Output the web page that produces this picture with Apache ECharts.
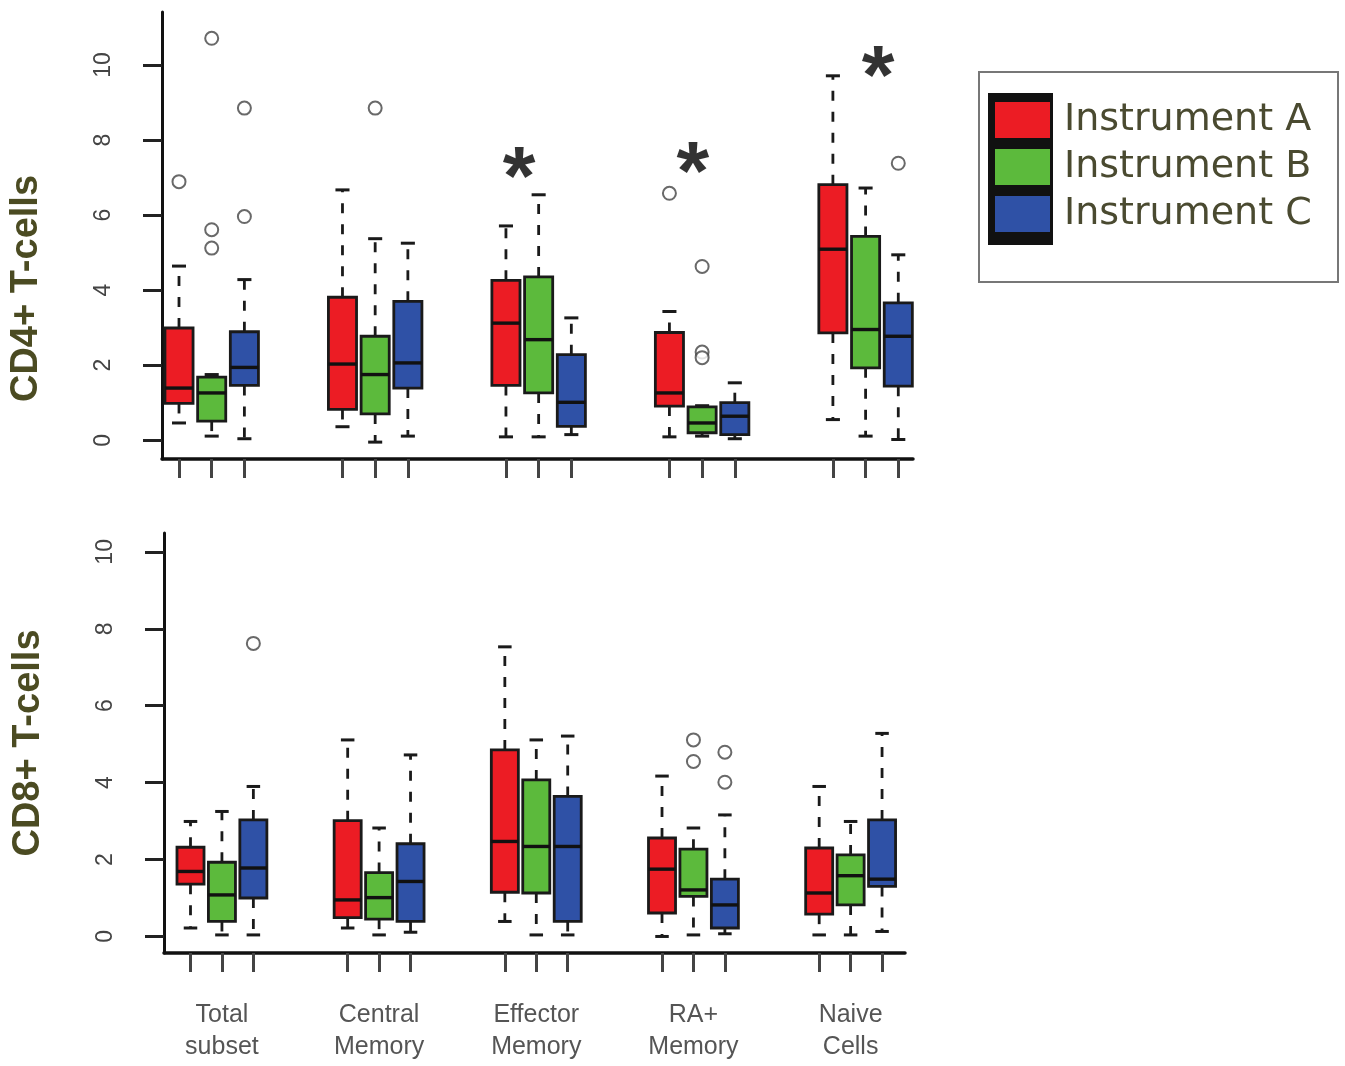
<!DOCTYPE html>
<html>
<head>
<meta charset="utf-8">
<script src="https://cdn.jsdelivr.net/npm/echarts@6/dist/echarts.min.js"></script>
<style>html,body{margin:0;padding:0;background:#fff}#c{width:1345px;height:1066px}</style>
</head>
<body>
<div id="c"></div>
<script>
// ---------- data ----------
const categories = ['Total\nsubset', 'Central\nMemory', 'Effector\nMemory', 'RA+\nMemory', 'Naive\nCells'];
const instruments = ['Instrument A', 'Instrument B', 'Instrument C'];
const instrumentColors = ['#ec1c24', '#5cba3c', '#2f51a6'];

// [min, Q1, median, Q3, max] per category
const cd4A = [[0.46, 0.98, 1.39, 2.99, 4.64], [0.36, 0.82, 2.03, 3.81, 6.67], [0.09, 1.46, 3.12, 4.26, 5.71], [0.09, 0.91, 1.26, 2.87, 3.43], [0.55, 2.86, 5.09, 6.81, 9.71]];
const cd4B = [[0.11, 0.51, 1.26, 1.68, 1.75], [-0.05, 0.70, 1.75, 2.77, 5.37], [0.09, 1.26, 2.68, 4.35, 6.54], [0.11, 0.20, 0.46, 0.89, 0.92], [0.11, 1.93, 2.95, 5.43, 6.72]];
const cd4C = [[0.04, 1.46, 1.94, 2.89, 4.28], [0.11, 1.39, 2.06, 3.70, 5.25], [0.15, 0.37, 1.01, 2.28, 3.26], [0.04, 0.15, 0.64, 1.00, 1.53], [0.02, 1.44, 2.77, 3.66, 4.94]];
// outliers: [categoryIndex, value]
const cd4AOut = [[0, 6.89], [3, 6.58]];
const cd4BOut = [[0, 10.71], [0, 5.61], [0, 5.12], [1, 8.85], [3, 4.63], [3, 2.35], [3, 2.2]];
const cd4COut = [[0, 8.85], [0, 5.96], [4, 7.38]];

const cd8A = [[0.22, 1.36, 1.69, 2.32, 2.99], [0.22, 0.49, 0.95, 3.01, 5.11], [0.39, 1.15, 2.47, 4.85, 7.53], [0.00, 0.61, 1.75, 2.56, 4.17], [0.04, 0.58, 1.13, 2.30, 3.90]];
const cd8B = [[0.04, 0.39, 1.08, 1.93, 3.25], [0.04, 0.45, 1.01, 1.66, 2.82], [0.04, 1.13, 2.34, 4.07, 5.11], [0.04, 1.04, 1.21, 2.27, 2.82], [0.04, 0.82, 1.58, 2.12, 2.99]];
const cd8C = [[0.04, 1.00, 1.78, 3.03, 3.90], [0.11, 0.39, 1.43, 2.41, 4.72], [0.04, 0.39, 2.34, 3.64, 5.21], [0.07, 0.22, 0.82, 1.49, 3.16], [0.13, 1.30, 1.49, 3.03, 5.28]];
const cd8AOut = [];
const cd8BOut = [[3, 5.11], [3, 4.55]];
const cd8COut = [[0, 7.62], [3, 4.79], [3, 4.01]];

// significance marks (top panel): [categoryIndex, instrument offset, value]
const stars = [[2, 0.4, 7.39], [3, 0.72, 7.52], [4, 1.38, 10.08]];

const yTicks = [0, 2, 4, 6, 8, 10];

// ---------- helpers ----------
const GROUP = 5; // positions per category (3 boxes + 2 gap)
const pos = (cat, inst) => cat * GROUP + inst;
const boxTicks = [];
categories.forEach((c, ci) => instruments.forEach((s, ii) => boxTicks.push(pos(ci, ii))));
const labelTicks = categories.map((c, ci) => pos(ci, 1));

function boxData(arr, inst) { return arr.map((d, ci) => [pos(ci, inst)].concat(d)); }
function outData(arr, inst) { return arr.map(d => [pos(d[0], inst), d[1]]); }

function renderBox(params, api) {
  const x = api.value(0);
  const pMin = api.coord([x, api.value(1)]);
  const pQ1 = api.coord([x, api.value(2)]);
  const pMed = api.coord([x, api.value(3)]);
  const pQ3 = api.coord([x, api.value(4)]);
  const pMax = api.coord([x, api.value(5)]);
  const w = api.size([0.86, 0])[0];
  const cx = pMed[0];
  const color = api.visual('color');
  const dash = { stroke: '#1a1a1a', lineWidth: 2.8, lineDash: [10, 11] };
  const solid = { stroke: '#1a1a1a', lineWidth: 3 };
  return {
    type: 'group',
    children: [
      { type: 'line', shape: { x1: cx, y1: pQ3[1], x2: cx, y2: pMax[1] }, style: dash },
      { type: 'line', shape: { x1: cx, y1: pQ1[1], x2: cx, y2: pMin[1] }, style: dash },
      { type: 'line', shape: { x1: cx - w / 4, y1: pMax[1], x2: cx + w / 4, y2: pMax[1] }, style: solid },
      { type: 'line', shape: { x1: cx - w / 4, y1: pMin[1], x2: cx + w / 4, y2: pMin[1] }, style: solid },
      { type: 'rect', shape: { x: cx - w / 2, y: pQ3[1], width: w, height: pQ1[1] - pQ3[1] },
        style: { fill: color, stroke: '#1a1a1a', lineWidth: 2.8 } },
      { type: 'line', shape: { x1: cx - w / 2, y1: pMed[1], x2: cx + w / 2, y2: pMed[1] },
        style: { stroke: '#111', lineWidth: 3.4 } }
    ]
  };
}

const FONT = 'Liberation Sans, Arial, sans-serif';
const titleColor = '#4b4b22';

function xAxisDef(grid, min, max, showLabels) {
  return {
    type: 'value', gridIndex: grid, min: min, max: max,
    axisLine: { show: true, onZero: false, lineStyle: { color: '#111', width: 3.5 } },
    axisTick: { show: true, length: 19, customValues: boxTicks, lineStyle: { color: '#444', width: 3 } },
    axisLabel: {
      show: showLabels, customValues: labelTicks, margin: 46,
      formatter: v => categories[Math.round((v - 1) / GROUP)] || '',
      fontFamily: FONT, fontSize: 25, color: '#555', lineHeight: 32
    },
    splitLine: { show: false }
  };
}
function yAxisDef(grid, min, max, name, shift) {
  return {
    type: 'value', gridIndex: grid, min: min, max: max,
    name: name, nameLocation: 'middle', nameGap: 116,
    nameTextStyle: { fontFamily: FONT, fontSize: 38, fontWeight: 'bold', color: titleColor,
                     padding: [0, shift, 0, 0] },
    axisLine: { show: true, onZero: false, lineStyle: { color: '#111', width: 3 } },
    axisTick: { show: true, length: 19, customValues: yTicks, lineStyle: { color: '#222', width: 3 } },
    axisLabel: { rotate: 90, customValues: yTicks, margin: 47, fontFamily: FONT, fontSize: 23, color: '#444' },
    splitLine: { show: false }
  };
}

const panels = [
  { grid: 0, boxes: [cd4A, cd4B, cd4C], outs: [cd4AOut, cd4BOut, cd4COut] },
  { grid: 1, boxes: [cd8A, cd8B, cd8C], outs: [cd8AOut, cd8BOut, cd8COut] }
];

const series = [];
panels.forEach(p => {
  p.boxes.forEach((arr, ii) => {
    series.push({
      type: 'custom', name: instruments[ii], xAxisIndex: p.grid, yAxisIndex: p.grid,
      renderItem: renderBox, itemStyle: { color: instrumentColors[ii] },
      encode: { x: 0, y: [1, 2, 3, 4, 5] }, data: boxData(arr, ii), z: 2
    });
  });
  p.outs.forEach((arr, ii) => {
    series.push({
      type: 'scatter', name: 'outliers-' + p.grid + '-' + ii, xAxisIndex: p.grid, yAxisIndex: p.grid,
      symbol: 'emptyCircle', symbolSize: 13,
      itemStyle: { color: '#444', borderColor: '#444', borderWidth: 3 },
      data: outData(arr, ii), z: 3
    });
  });
});
series.push({
  type: 'scatter', name: 'significance', xAxisIndex: 0, yAxisIndex: 0,
  symbol: 'circle', symbolSize: 1, itemStyle: { color: 'rgba(0,0,0,0)' },
  label: { show: true, position: 'inside', formatter: '*', fontFamily: FONT, fontWeight: 'bold',
           fontSize: 84, color: '#000', offset: [0, 19] },
  data: stars.map(s => [pos(s[0], s[1]), s[2]]), z: 4
});

const option = {
  backgroundColor: '#fff',
  animation: false,
  grid: [
    { left: 162, top: 12, width: 751, height: 447 },
    { left: 164, top: 533, width: 741, height: 420 }
  ],
  xAxis: [xAxisDef(0, -0.52, 22.45, false), xAxisDef(1, -0.843, 22.73, true)],
  yAxis: [yAxisDef(0, -0.5, 11.41, 'CD4+ T-cells', 106), yAxisDef(1, -0.43, 10.49, 'CD8+ T-cells', 0)],
  legend: {
    data: instruments, orient: 'vertical', left: 988, top: 95, z: 10,
    icon: 'rect', itemWidth: 57, itemHeight: 38, itemGap: 7,
    itemStyle: { borderColor: '#111', borderWidth: 2 },
    textStyle: { fontFamily: 'DejaVu Sans, Verdana, sans-serif', fontSize: 38, color: '#4a4a30', padding: [0, 0, 0, 8] },
    selectedMode: false
  },
  graphic: [
    { type: 'rect', left: 978, top: 71, z: 0, shape: { width: 359, height: 210 },
      style: { fill: '#fff', stroke: '#777', lineWidth: 2 } },
    { type: 'rect', left: 988, top: 93, z: 1, shape: { width: 65, height: 152 },
      style: { fill: '#111' } }
  ],
  series: series
};

const chart = echarts.init(document.getElementById('c'), null, { renderer: 'canvas' });
chart.setOption(option);
</script>
</body>
</html>
